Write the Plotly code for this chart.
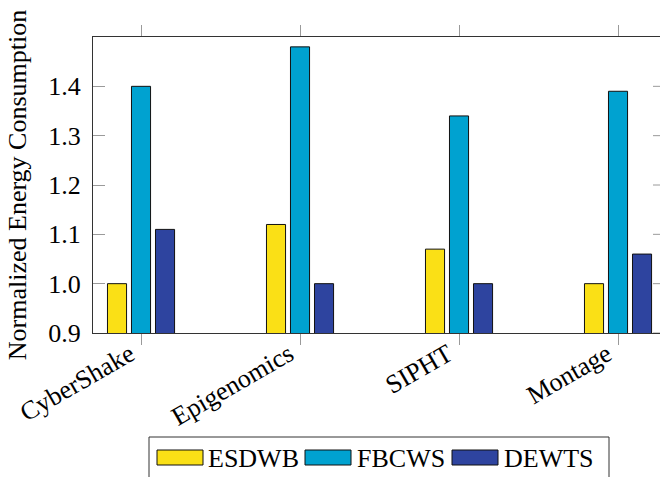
import plotly.graph_objects as go

categories = ["CyberShake", "Epigenomics", "SIPHT", "Montage"]
series_names = ["ESDWB", "FBCWS", "DEWTS"]
esdwb = [1.00, 1.12, 1.07, 1.00]
fbcws = [1.40, 1.48, 1.34, 1.39]
dewts = [1.11, 1.00, 1.00, 1.06]
y_ticks = [0.9, 1.0, 1.1, 1.2, 1.3, 1.4]
colors = ["#FAE016", "#00A2D0", "#2E449F"]

FONT = "Liberation Serif"
FS = 26
W, H = 660, 477
L, R, T, B = 93, 0, 37, 144
PW = W - L - R
PH = H - T - B

values = [esdwb, fbcws, dewts]
bar_w = 0.12
step = 0.151
xs = list(range(len(categories)))

fig = go.Figure()
for i, (name, vals) in enumerate(zip(series_names, values)):
    fig.add_trace(go.Bar(
        x=xs, y=vals, name=name,
        width=bar_w, offset=(i - 1) * step - bar_w / 2,
        marker=dict(color=colors[i], line=dict(color="#111111", width=1)),
        showlegend=False,
    ))

def px2x(px):
    return (px - L) / PW

def py2y(py):
    return (H - B - py) / PH

shapes = []
# right-side inward ticks (axis lies just beyond the visible canvas)
for v in y_ticks:
    shapes.append(dict(type="line", xref="paper", yref="y",
                       x0=px2x(653), x1=px2x(666), y0=v, y1=v,
                       line=dict(color="#9a9a9a", width=1)))
# legend box
shapes.append(dict(type="rect", xref="paper", yref="paper",
                   x0=px2x(149), x1=px2x(609), y0=py2y(437), y1=py2y(490),
                   line=dict(color="#333333", width=1), fillcolor="white"))
annotations = []
sw_x = [157, 305, 452]
tx_x = [206, 355, 502]
for i, name in enumerate(series_names):
    shapes.append(dict(type="rect", xref="paper", yref="paper",
                       x0=px2x(sw_x[i]), x1=px2x(sw_x[i] + 46),
                       y0=py2y(450), y1=py2y(465),
                       line=dict(color="#111111", width=1), fillcolor=colors[i]))
    annotations.append(dict(xref="paper", yref="paper", x=px2x(tx_x[i]), y=py2y(458),
                            text=name, showarrow=False, xanchor="left", yanchor="middle",
                            font=dict(family=FONT, size=FS, color="black")))

fig.update_layout(
    width=W, height=H,
    margin=dict(l=L, r=R, t=T, b=B, pad=0),
    paper_bgcolor="white", plot_bgcolor="white",
    font=dict(family=FONT, size=FS, color="black"),
    barmode="overlay",
    shapes=shapes,
    annotations=annotations,
    xaxis=dict(
        range=[-0.302, 3.264],
        tickmode="array", tickvals=xs, ticktext=categories,
        tickangle=-30,
        ticks="outside", ticklen=11, tickcolor="#9a9a9a", tickwidth=1,
        ticklabelshift=-11, ticklabelstandoff=-16,
        showline=True, linecolor="#333333", linewidth=1, mirror="ticks",
        showgrid=False, zeroline=False,
        tickfont=dict(family=FONT, size=FS),
    ),
    yaxis=dict(
        range=[0.9, 1.5],
        tickmode="array", tickvals=y_ticks, ticktext=[f"{v:.1f}" for v in y_ticks],
        ticks="inside", ticklen=12, tickcolor="#9a9a9a", tickwidth=1,
        ticklabelstandoff=6,
        showline=True, linecolor="#333333", linewidth=1, mirror=False,
        showgrid=False, zeroline=False,
        tickfont=dict(family=FONT, size=FS),
        title=dict(text="Normalized Energy Consumption", standoff=14,
                   font=dict(family=FONT, size=FS)),
    ),
)

fig.write_html("out.html", config={"displayModeBar": False},
               post_script="document.body.style.margin='0';")
